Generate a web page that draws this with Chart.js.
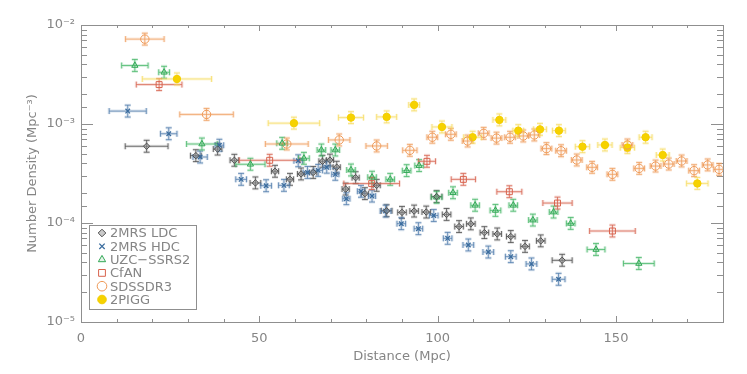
<!DOCTYPE html>
<html>
<head>
<meta charset="utf-8">
<script src="https://cdn.jsdelivr.net/npm/chart.js@4.4.0/dist/chart.umd.min.js"></script>
<style>
    html, body { margin: 0; padding: 0; background: #fff; }
</style>
</head>
<body>
<canvas id="densityChart" width="747" height="374"></canvas>
<script>
// distance (Mpc), number density (Mpc^-3), half width of distance bin (Mpc)
const ldcX = [18.4, 32.2, 38.3, 43.0, 48.9, 54.4, 58.6, 61.7, 65.1, 67.7, 69.8, 71.7, 74.2, 77.0, 79.6, 82.9, 85.7, 90.0, 93.4, 96.8, 99.7, 102.5, 106.0, 109.3, 113.1, 116.7, 120.5, 124.5, 128.9, 134.9];
const ldcY = [5.96e-4, 4.79e-4, 5.58e-4, 4.3e-4, 2.54e-4, 3.33e-4, 2.76e-4, 3.13e-4, 3.24e-4, 4.2e-4, 4.32e-4, 3.66e-4, 2.2e-4, 2.87e-4, 1.98e-4, 2.4e-4, 1.33e-4, 1.28e-4, 1.32e-4, 1.29e-4, 1.85e-4, 1.22e-4, 9.2e-5, 9.8e-5, 8.0e-5, 7.75e-5, 7.3e-5, 5.8e-5, 6.6e-5, 4.2e-5];
const ldcXErr = [6.0, 1.5, 1.2, 1.2, 1.5, 1.0, 1.0, 1.0, 1.0, 1.0, 1.0, 1.0, 1.0, 1.0, 1.0, 1.0, 1.5, 1.2, 1.2, 1.2, 1.5, 1.2, 1.2, 1.2, 1.2, 1.2, 1.2, 1.2, 1.2, 2.8];

const hdcX = [13.1, 24.6, 33.4, 38.8, 44.9, 51.9, 56.9, 60.9, 63.5, 66.5, 68.9, 71.3, 74.4, 78.5, 81.6, 85.4, 89.8, 94.6, 98.9, 102.8, 108.6, 114.2, 120.5, 126.3, 133.9];
const hdcY = [1.35e-3, 7.97e-4, 4.64e-4, 6.1e-4, 2.76e-4, 2.38e-4, 2.4e-4, 4.25e-4, 3.24e-4, 3.4e-4, 3.66e-4, 3.1e-4, 1.76e-4, 2.09e-4, 1.87e-4, 1.32e-4, 9.84e-5, 8.76e-5, 1.19e-4, 7.0e-5, 6.0e-5, 5.09e-5, 4.57e-5, 3.86e-5, 2.7e-5];
const hdcXErr = [5.2, 2.3, 2.0, 1.2, 1.5, 1.5, 1.5, 1.2, 1.2, 1.2, 1.0, 1.0, 1.0, 1.0, 1.0, 1.5, 1.2, 1.2, 1.2, 1.2, 1.5, 1.5, 1.5, 1.5, 1.8];

const uzcX = [15.1, 23.3, 33.9, 47.5, 56.4, 62.5, 67.4, 71.3, 75.7, 81.6, 86.7, 91.3, 94.8, 99.7, 104.3, 110.5, 116.2, 121.2, 126.7, 132.5, 137.3, 144.4, 156.4];
const uzcY = [3.9e-3, 3.33e-3, 6.28e-4, 3.92e-4, 6.38e-4, 4.5e-4, 5.46e-4, 5.46e-4, 3.43e-4, 2.9e-4, 2.76e-4, 3.38e-4, 3.8e-4, 1.82e-4, 2.02e-4, 1.51e-4, 1.34e-4, 1.51e-4, 1.07e-4, 1.29e-4, 9.9e-5, 5.4e-5, 3.9e-5];
const uzcXErr = [3.7, 1.5, 4.3, 4.1, 1.5, 1.5, 1.2, 1.2, 1.2, 1.2, 1.2, 1.2, 1.2, 1.5, 1.2, 1.2, 1.5, 1.2, 1.2, 1.2, 1.2, 2.5, 4.3];

const cfaX = [21.9, 52.9, 81.5, 97.0, 107.2, 120.1, 133.6, 149.0];
const cfaY = [2.5e-3, 4.3e-4, 2.5e-4, 4.2e-4, 2.76e-4, 2.07e-4, 1.59e-4, 8.3e-5];
const cfaXErr = [6.4, 8.5, 7.8, 2.4, 3.4, 3.5, 4.1, 6.4];

const sdssX = [17.9, 35.2, 57.7, 72.4, 82.9, 92.2, 98.5, 103.7, 108.4, 112.9, 116.5, 120.3, 124.0, 127.1, 130.5, 134.6, 139.0, 143.3, 149.0, 153.2, 156.5, 161.1, 164.8, 168.4, 171.9, 175.7, 178.9];
const sdssY = [7.2e-3, 1.25e-3, 6.28e-4, 6.9e-4, 6.0e-4, 5.42e-4, 7.35e-4, 7.87e-4, 6.73e-4, 8.05e-4, 7.2e-4, 7.34e-4, 7.57e-4, 7.75e-4, 5.64e-4, 5.37e-4, 4.33e-4, 3.65e-4, 3.1e-4, 6.14e-4, 3.56e-4, 3.76e-4, 3.94e-4, 4.23e-4, 3.38e-4, 3.86e-4, 3.48e-4];
const sdssXErr = [5.4, 7.5, 6.0, 3.0, 3.0, 2.0, 1.5, 1.5, 1.5, 1.5, 1.5, 1.5, 1.5, 1.5, 1.5, 1.5, 1.5, 1.5, 1.5, 1.5, 1.5, 1.5, 1.5, 1.5, 1.5, 1.5, 1.5];

const piggX = [26.9, 59.7, 75.7, 85.7, 93.4, 101.2, 109.8, 117.3, 122.6, 128.7, 134.0, 140.6, 146.9, 153.2, 158.3, 163.1, 172.8];
const piggY = [2.85e-3, 1.02e-3, 1.16e-3, 1.18e-3, 1.56e-3, 9.33e-4, 7.35e-4, 1.1e-3, 8.57e-4, 8.83e-4, 8.57e-4, 5.9e-4, 6.14e-4, 5.77e-4, 7.35e-4, 4.86e-4, 2.51e-4];
const piggXErr = [9.7, 7.2, 3.5, 2.8, 1.5, 2.8, 2.5, 1.8, 1.5, 1.8, 1.8, 2.0, 2.0, 2.0, 1.8, 1.8, 3.0];

// vertical error, in dex, about the same for all points
const yErrDex = 0.06;

const textColor = '#858585';
const axisColor = '#8f8f8f';
const fontFamily = "'DejaVu Sans', sans-serif";

function makeSet(label, xs, ys, xerrs, style) {
    return Object.assign({
        label: label,
        data: xs.map((x, i) => ({ x: x, y: ys[i], xerr: xerrs[i] })),
        showLine: false,
        pointBorderWidth: 1
    }, style);
}

const datasets = [
    makeSet('2MRS LDC', ldcX, ldcY, ldcXErr, {
        pointStyle: 'rectRot', pointRadius: 3.2,
        borderColor: '#505050', backgroundColor: 'rgba(150,150,150,0.5)',
        errColor: 'rgba(70,70,70,0.75)', errHalo: 'rgba(110,110,110,0.2)'
    }),
    makeSet('2MRS HDC', hdcX, hdcY, hdcXErr, {
        pointStyle: 'crossRot', pointRadius: 3.2, pointBorderWidth: 1.3,
        borderColor: '#3a6c9e', backgroundColor: '#3a6c9e',
        errColor: 'rgba(75,120,170,0.75)', errHalo: 'rgba(75,120,170,0.2)'
    }),
    makeSet('UZC\u2212SSRS2', uzcX, uzcY, uzcXErr, {
        pointStyle: 'triangle', pointRadius: 3.6,
        borderColor: '#32a856', backgroundColor: 'rgba(50,168,86,0.12)',
        errColor: 'rgba(65,182,100,0.75)', errHalo: 'rgba(65,182,100,0.2)'
    }),
    makeSet('CfAN', cfaX, cfaY, cfaXErr, {
        pointStyle: 'rect', pointRadius: 4.2,
        borderColor: '#d8634d', backgroundColor: 'rgba(255,255,255,0)',
        errColor: 'rgba(215,100,80,0.8)', errHalo: 'rgba(215,100,80,0.18)'
    }),
    makeSet('SDSSDR3', sdssX, sdssY, sdssXErr, {
        pointStyle: 'circle', pointRadius: 4.2,
        borderColor: '#ef9a58', backgroundColor: 'rgba(255,255,255,0)',
        errColor: 'rgba(238,155,90,0.75)', errHalo: 'rgba(238,155,90,0.2)'
    }),
    makeSet('2PIGG', piggX, piggY, piggXErr, {
        pointStyle: 'circle', pointRadius: 3.7,
        borderColor: '#f3cd00', backgroundColor: '#f6d200',
        errColor: 'rgba(246,218,90,0.7)', errHalo: 'rgba(246,218,90,0.22)'
    })
];

const supDigits = { '-': '\u207B', '0': '\u2070', '1': '\u00B9', '2': '\u00B2', '3': '\u00B3', '4': '\u2074', '5': '\u2075', '6': '\u2076', '7': '\u2077', '8': '\u2078', '9': '\u2079' };
function sup(n) {
    return String(n).split('').map(c => supDigits[c]).join('');
}
function isDecade(v) {
    const e = Math.log10(v);
    return Math.abs(e - Math.round(e)) < 1e-6;
}

// box round the plot with inward ticks on all four sides
const frame = {
    id: 'frame',
    beforeDatasetsDraw(chart) {
        const { ctx, chartArea: a, scales: { x, y } } = chart;
        ctx.save();
        ctx.strokeStyle = axisColor;
        ctx.lineWidth = 1;
        ctx.strokeRect(a.left + 0.5, a.top + 0.5, a.width, a.height);
        ctx.beginPath();
        x.ticks.forEach(t => {
            const px = Math.round(x.getPixelForValue(t.value)) + 0.5;
            const len = t.value % 50 === 0 ? 6 : 3;
            ctx.moveTo(px, a.bottom); ctx.lineTo(px, a.bottom - len);
            ctx.moveTo(px, a.top); ctx.lineTo(px, a.top + len);
        });
        y.ticks.forEach(t => {
            const py = Math.round(y.getPixelForValue(t.value)) + 0.5;
            const len = isDecade(t.value) ? 12 : 6;
            ctx.moveTo(a.left, py); ctx.lineTo(a.left + len, py);
            ctx.moveTo(a.right, py); ctx.lineTo(a.right - len, py);
        });
        ctx.stroke();
        ctx.restore();
    }
};

const errorBars = {
    id: 'errorBars',
    beforeDatasetsDraw(chart) {
        const { ctx, chartArea: a, scales: { x, y } } = chart;
        const f = Math.pow(10, yErrDex);
        const cap = 3;
        ctx.save();
        ctx.beginPath();
        ctx.rect(a.left, a.top, a.width, a.height);
        ctx.clip();
        chart.data.datasets.forEach(ds => {
            ds.data.forEach(p => {
                const px = x.getPixelForValue(p.x);
                const py = y.getPixelForValue(p.y);
                const x0 = x.getPixelForValue(p.x - p.xerr);
                const x1 = x.getPixelForValue(p.x + p.xerr);
                const y0 = y.getPixelForValue(p.y / f);
                const y1 = y.getPixelForValue(p.y * f);
                [[3, ds.errHalo], [1, ds.errColor]].forEach(([w, c]) => {
                    ctx.lineWidth = w;
                    ctx.strokeStyle = c;
                    ctx.beginPath();
                    ctx.moveTo(x0, py); ctx.lineTo(x1, py);
                    ctx.moveTo(x0, py - cap); ctx.lineTo(x0, py + cap);
                    ctx.moveTo(x1, py - cap); ctx.lineTo(x1, py + cap);
                    ctx.moveTo(px, y0); ctx.lineTo(px, y1);
                    ctx.moveTo(px - cap, y0); ctx.lineTo(px + cap, y0);
                    ctx.moveTo(px - cap, y1); ctx.lineTo(px + cap, y1);
                    ctx.stroke();
                });
            });
        });
        ctx.restore();
    }
};

// legend box in the lower left corner of the plot
const boxLegend = {
    id: 'boxLegend',
    afterDraw(chart) {
        const { ctx, chartArea: a } = chart;
        const left = a.left + 8, top = a.top + 200, w = 107, h = 84;
        ctx.save();
        ctx.fillStyle = '#fff';
        ctx.fillRect(left, top, w, h);
        ctx.strokeStyle = axisColor;
        ctx.lineWidth = 1;
        ctx.strokeRect(left + 0.5, top + 0.5, w, h);
        ctx.font = '13px ' + fontFamily;
        ctx.textBaseline = 'middle';
        chart.data.datasets.forEach((ds, i) => {
            const cy = top + 8 + i * 13.3;
            ctx.strokeStyle = ds.borderColor;
            ctx.fillStyle = ds.backgroundColor;
            ctx.lineWidth = ds.pointBorderWidth;
            Chart.helpers.drawPoint(ctx, {
                pointStyle: ds.pointStyle, radius: ds.pointRadius + 0.6,
                borderWidth: ds.pointBorderWidth, rotation: 0
            }, left + 13, cy);
            ctx.fillStyle = textColor;
            ctx.fillText(ds.label, left + 21, cy + 1);
        });
        ctx.restore();
    }
};

const ctx = document.getElementById('densityChart').getContext('2d');
new Chart(ctx, {
    type: 'scatter',
    data: { datasets: datasets },
    plugins: [frame, errorBars, boxLegend],
    options: {
        responsive: false,
        animation: false,
        layout: { padding: { top: 25, right: 24, left: 0, bottom: 0 } },
        plugins: {
            legend: { display: false },
            tooltip: { enabled: false }
        },
        scales: {
            x: {
                type: 'linear',
                min: 0, max: 180,
                grid: { display: false, drawTicks: false },
                border: { display: false },
                ticks: {
                    stepSize: 10, autoSkip: false, maxRotation: 0,
                    padding: 9, color: textColor,
                    font: { family: fontFamily, size: 13 },
                    callback: v => (v % 50 === 0 ? String(v) : '')
                },
                title: {
                    display: true, text: 'Distance (Mpc)', color: textColor,
                    font: { family: fontFamily, size: 13 },
                    padding: { top: 0, bottom: 10 }
                },
                afterFit: s => { s.height = 52; s.paddingLeft = 0; s.paddingRight = 0; }
            },
            y: {
                type: 'logarithmic',
                min: 1e-5, max: 1e-2,
                grid: { display: false, drawTicks: false },
                border: { display: false },
                ticks: {
                    autoSkip: false, padding: 6, color: textColor,
                    font: { family: fontFamily, size: 13 },
                    callback: v => (isDecade(v) ? '10' + sup(Math.round(Math.log10(v))) : '')
                },
                title: {
                    display: true, text: 'Number Density (Mpc\u207B\u00B3)', color: textColor,
                    font: { family: fontFamily, size: 13 },
                    padding: { top: 25, bottom: 0 }
                },
                afterFit: s => { s.width = 81; s.paddingTop = 0; s.paddingBottom = 0; }
            }
        }
    }
});
</script>
</body>
</html>
